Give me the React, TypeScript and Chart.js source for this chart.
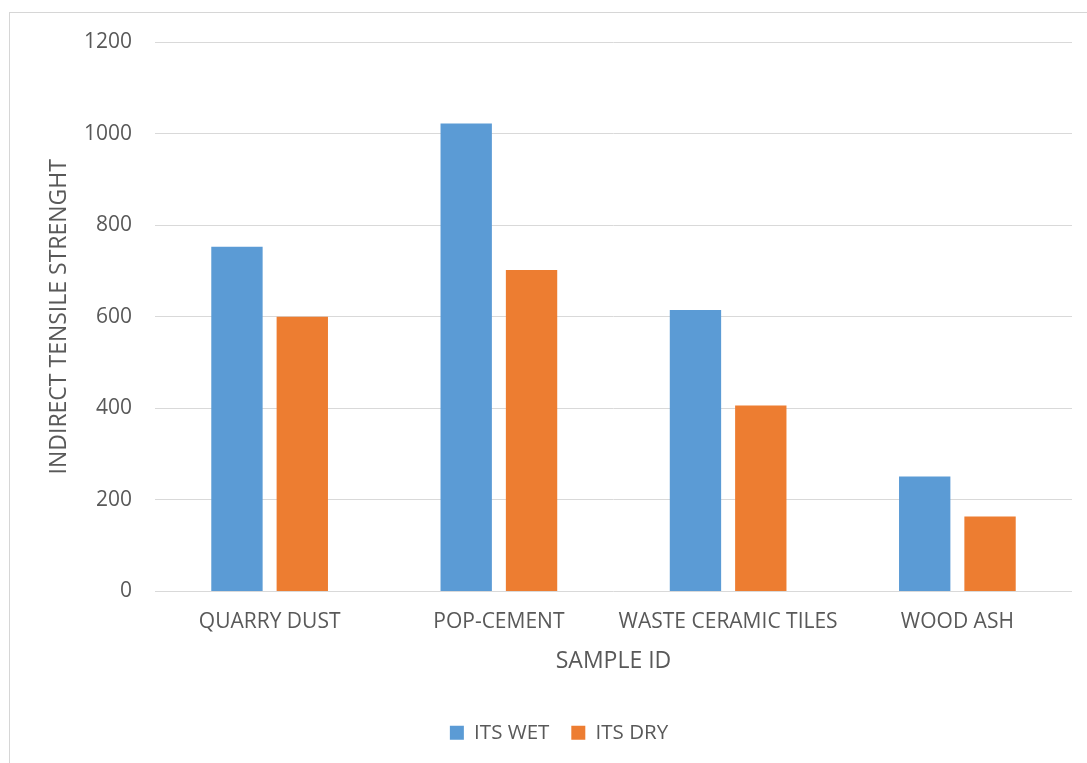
import React, { useEffect, useRef } from "react";
import { Chart, registerables } from "chart.js";

Chart.register(...registerables);

// Sample materials on the category axis
const categories = ["QUARRY DUST", "POP-CEMENT", "WASTE CERAMIC TILES", "WOOD ASH"];

// Indirect tensile strength per sample
const itsWet = [753, 1022, 615, 251];
const itsDry = [600, 702, 406, 164];

// Value axis range
const yMin = 0;
const yMax = 1200;
const yStep = 200;

const TEXT = "#595959";
const GRID = "#D9D9D9";
const FONT = "'Open Sans', 'Noto Sans', sans-serif";

export default function App() {
  const canvasRef = useRef<HTMLCanvasElement | null>(null);

  useEffect(() => {
    const canvas = canvasRef.current;
    if (!canvas) return;
    const chart = new Chart(canvas, {
      type: "bar",
      data: {
        labels: categories,
        datasets: [
          {
            label: "ITS WET",
            data: itsWet,
            backgroundColor: "#5B9BD5",
            categoryPercentage: 0.57,
            barPercentage: 0.786,
          },
          {
            label: "ITS DRY",
            data: itsDry,
            backgroundColor: "#ED7D31",
            categoryPercentage: 0.57,
            barPercentage: 0.786,
          },
        ],
      },
      options: {
        animation: false,
        responsive: false,
        maintainAspectRatio: false,
        layout: { padding: { top: 42, right: 15, bottom: 10, left: 46 } },
        plugins: {
          legend: {
            position: "bottom",
            labels: {
              boxWidth: 14,
              boxHeight: 14,
              padding: 22,
              color: TEXT,
              font: { family: FONT, size: 20.5 },
            },
          },
          tooltip: { enabled: false },
        },
        scales: {
          x: {
            grid: { display: false, drawTicks: false },
            border: { display: false },
            ticks: {
              color: TEXT,
              padding: 18,
              maxRotation: 0,
              autoSkip: false,
              font: { family: FONT, size: 21 },
            },
            title: {
              display: true,
              text: "SAMPLE ID",
              color: TEXT,
              font: { family: FONT, size: 23 },
              padding: { top: 0, bottom: 25 },
            },
            afterFit: (scale: any) => {
              scale.height = 109;
            },
          },
          y: {
            min: yMin,
            max: yMax,
            grid: { color: GRID, lineWidth: 1, drawTicks: false },
            border: { display: false },
            ticks: {
              stepSize: yStep,
              color: TEXT,
              padding: 23,
              font: { family: FONT, size: 21 },
              callback: (value: any) => String(value),
            },
            title: {
              display: true,
              text: "INDIRECT TENSILE STRENGHT",
              color: TEXT,
              font: { family: FONT, size: 23 },
              padding: { top: 0, bottom: 0 },
            },
            afterFit: (scale: any) => {
              scale.width = 109;
            },
          },
        },
      },
    });
    return () => chart.destroy();
  }, []);

  return (
    <div
      style={{
        position: "absolute",
        left: 0,
        top: 0,
        width: 1087,
        height: 763,
        overflow: "hidden",
        background: "#ffffff",
      }}
    >
      <div
        style={{
          position: "absolute",
          left: 9,
          top: 12,
          width: 1120,
          height: 800,
          borderLeft: "1px solid #D6D6D6",
          borderTop: "1px solid #D6D6D6",
        }}
      />
      <canvas
        ref={canvasRef}
        width={1087}
        height={763}
        style={{ position: "absolute", left: 0, top: 0, width: 1087, height: 763 }}
      />
    </div>
  );
}
